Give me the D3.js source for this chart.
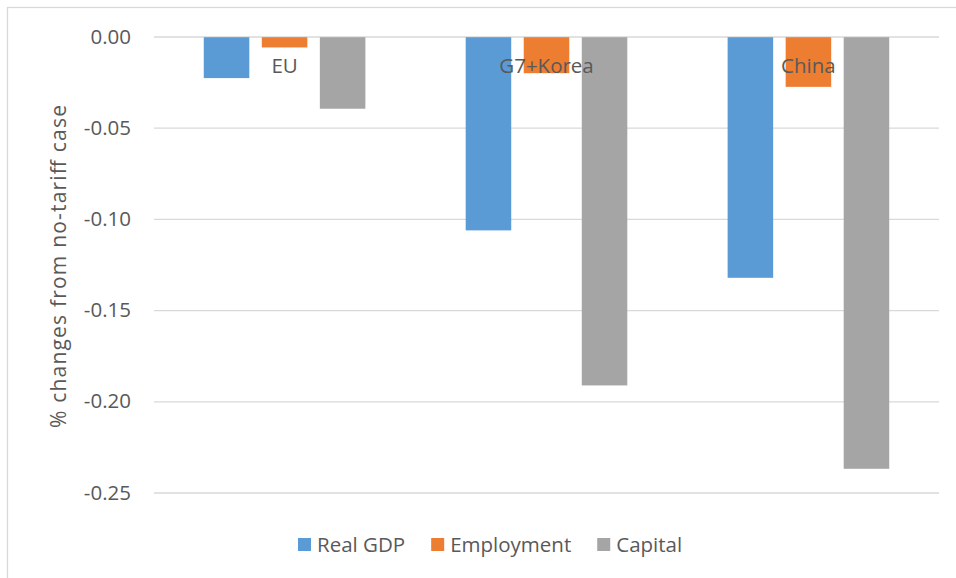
<!DOCTYPE html>
<html>
<head>
<meta charset="utf-8">
<script src="https://cdn.jsdelivr.net/npm/d3@7"></script>
<style>
  body { margin: 0; background: #fff; }
  svg text { font-family: 'Open Sans', sans-serif; fill: #595959; }
</style>
</head>
<body>
<svg id="chart" width="956" height="578"></svg>
<script>
// chart data
const regions = ['EU', 'G7+Korea', 'China']
const seriesNames = ['Real GDP', 'Employment', 'Capital']
const realGdp = [-0.0228, -0.1063, -0.1323]
const employment = [-0.0060, -0.0201, -0.0276]
const capital = [-0.0396, -0.1913, -0.2370]
const yTicks = [0, -0.05, -0.10, -0.15, -0.20, -0.25]
const colors = ['#5B9BD5', '#ED7D31', '#A5A5A5']

const seriesValues = [realGdp, employment, capital]

const svg = d3.select('#chart')

// outer chart border
svg.append('rect')
  .attr('x', 7.5)
  .attr('y', 7.5)
  .attr('width', 960)
  .attr('height', 590)
  .attr('fill', 'none')
  .attr('stroke', '#D9D9D9')
  .attr('stroke-width', 1.3)

const x0 = d3.scaleBand()
  .domain(regions)
  .range([154, 939])
  .paddingInner(0.383)
  .paddingOuter(0.19)

const x1 = d3.scaleBand()
  .domain(seriesNames)
  .range([0, x0.bandwidth()])
  .paddingInner(0.2155)

const y = d3.scaleLinear()
  .domain([-0.25, 0])
  .range([492.5, 36.5])

// Excel style: plain hyphen for negatives
const fmt = d => d3.format('.2f')(d).replace('\u2212', '-')

// gridlines + y labels
const yAxis = d3.axisLeft(y)
  .tickValues(yTicks)
  .tickSize(-(939 - 154))
  .tickPadding(23)
  .tickFormat(fmt)

const gy = svg.append('g')
  .attr('transform', 'translate(154,0)')
  .call(yAxis)
gy.select('.domain').remove()
gy.selectAll('line').attr('stroke', '#D9D9D9').attr('stroke-width', 1.3)
gy.selectAll('text')
  .attr('font-size', 20.5)
  .style('font-family', "'Open Sans', sans-serif")
  .attr('fill', '#595959')

// bars
const groups = svg.append('g')
  .selectAll('g')
  .data(regions)
  .join('g')
  .attr('transform', d => 'translate(' + x0(d) + ',0)')

groups.selectAll('rect')
  .data((d, i) => seriesNames.map((s, j) => ({ s: s, v: seriesValues[j][i], c: colors[j] })))
  .join('rect')
  .attr('x', d => x1(d.s))
  .attr('width', x1.bandwidth())
  .attr('y', d => y(Math.max(0, d.v)) + 0.7)
  .attr('height', d => Math.abs(y(d.v) - y(0)) - 0.7)
  .attr('fill', d => d.c)

// category labels hanging under the zero line
const xAxis = d3.axisBottom(x0)
  .tickSize(0)
  .tickPadding(22)

const gx = svg.append('g')
  .attr('transform', 'translate(0,' + y(0) + ')')
  .call(xAxis)
gx.select('.domain').remove()
gx.selectAll('text')
  .attr('font-size', 20.5)
  .style('font-family', "'Open Sans', sans-serif")
  .attr('fill', '#595959')

// y axis title
svg.append('text')
  .attr('transform', 'translate(66,266.5) rotate(-90)')
  .attr('text-anchor', 'middle')
  .attr('font-size', 21)
  .attr('textLength', 323)
  .attr('lengthAdjust', 'spacing')
  .text('% changes from no-tariff case')

// legend
const legend = svg.append('g')
  .attr('transform', 'translate(298,545)')
let lx = 0
seriesNames.forEach((name, i) => {
  legend.append('rect')
    .attr('x', lx)
    .attr('y', -7)
    .attr('width', 13)
    .attr('height', 13)
    .attr('fill', colors[i])
  const t = legend.append('text')
    .attr('x', lx + 19)
    .attr('dy', '0.35em')
    .attr('font-size', 20.5)
    .text(name)
  lx += 19 + t.node().getComputedTextLength() + 26
})
</script>
</body>
</html>
